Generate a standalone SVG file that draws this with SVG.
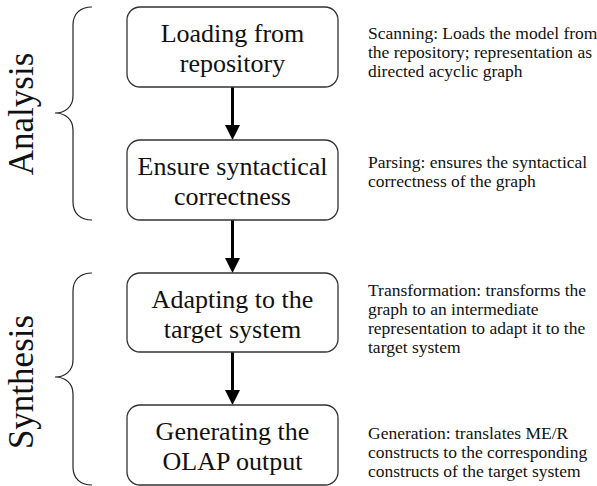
<svg xmlns="http://www.w3.org/2000/svg" width="597" height="486" viewBox="0 0 597 486">
<defs>
<style>
.box{fill:#fff;stroke:#333;stroke-width:1.3}
text{font-family:'Liberation Serif','DejaVu Serif',serif;fill:#111}
.nt{font-size:26px;text-anchor:middle}
.st{font-size:17.5px}
.big{font-size:35px;text-anchor:middle}
.brace{fill:none;stroke:#222;stroke-width:1.2}
.conn{stroke:#000;stroke-width:3;fill:none}
.head{fill:#000}
</style>
</defs>
<rect width="597" height="486" fill="#fff"/>
<g id="analysis">
<path class="brace" d="M92,7 C80,7 73,14 73,25 L73,96 C73,107 65,113 55,113 C65,113 73,119 73,130 L73,202 C73,213 80,220 92,220"/>
<text class="big" font-family="Liberation Serif, serif" transform="translate(33,114) rotate(-90)">Analysis</text>
</g>
<g id="synthesis">
<path class="brace" d="M92,273 C80,273 73,280 73,291 L73,360 C73,371 65,377 55,377 C65,377 73,383 73,394 L73,467 C73,478 80,485 92,485"/>
<text class="big" font-family="Liberation Serif, serif" transform="translate(33,382) rotate(-90)">Synthesis</text>
</g>
<g id="connectors">
<line class="conn" x1="232.5" y1="87" x2="232.5" y2="127"/>
<polygon class="head" points="225,125 240,125 232.5,140"/>
<line class="conn" x1="232.5" y1="220" x2="232.5" y2="260"/>
<polygon class="head" points="225,258 240,258 232.5,273"/>
<line class="conn" x1="232.5" y1="352" x2="232.5" y2="392"/>
<polygon class="head" points="225,390 240,390 232.5,405"/>
</g>
<g id="loading">
<rect class="box" x="127" y="7" width="211" height="80" rx="13"/>
<text class="nt" x="232.5" y="42">Loading from</text>
<text class="nt" x="232.5" y="72">repository</text>
<text class="st" x="368" y="39">Scanning: Loads the model from</text>
<text class="st" x="368" y="58">the repository; representation as</text>
<text class="st" x="368" y="77">directed acyclic graph</text>
</g>
<g id="ensure">
<rect class="box" x="127" y="140" width="211" height="80" rx="13"/>
<text class="nt" x="232.5" y="175">Ensure syntactical</text>
<text class="nt" x="232.5" y="205">correctness</text>
<text class="st" x="368" y="168">Parsing: ensures the syntactical</text>
<text class="st" x="368" y="187">correctness of the graph</text>
</g>
<g id="adapting">
<rect class="box" x="127" y="273" width="211" height="79" rx="13"/>
<text class="nt" x="232.5" y="308">Adapting to the</text>
<text class="nt" x="232.5" y="338">target system</text>
<text class="st" x="368" y="296">Transformation: transforms the</text>
<text class="st" x="368" y="315">graph to an intermediate</text>
<text class="st" x="368" y="334">representation to adapt it to the</text>
<text class="st" x="368" y="353">target system</text>
</g>
<g id="generating">
<rect class="box" x="127" y="405" width="211" height="80" rx="13"/>
<text class="nt" x="232.5" y="440">Generating the</text>
<text class="nt" x="232.5" y="470">OLAP output</text>
<text class="st" x="368" y="439">Generation: translates ME/R</text>
<text class="st" x="368" y="458">constructs to the corresponding</text>
<text class="st" x="368" y="477">constructs of the target system</text>
</g>
</svg>
